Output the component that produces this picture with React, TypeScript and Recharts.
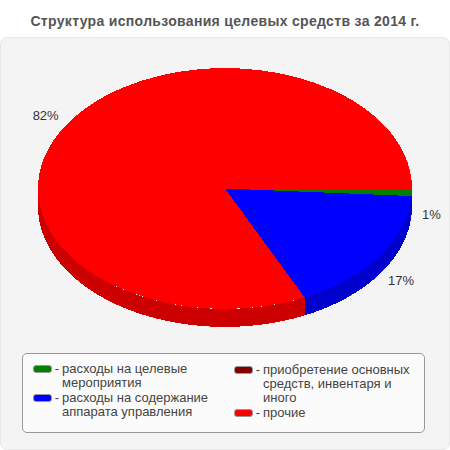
import { Legend, Pie, PieChart } from "recharts";

const categories = [
  "расходы на целевые мероприятия",
  "расходы на содержание аппарата управления",
  "приобретение основных средств, инвентаря и иного",
  "прочие",
];
const shares = [1, 17, 0, 82];
const topColors = ["#008000", "#0000ff", "#800000", "#ff0000"];
const wallColors = ["#006600", "#0000cc", "#660000", "#cc0000"];

const topData = categories.map((name, i) => ({ name, value: shares[i], fill: topColors[i] }));
const wallData = categories.map((name, i) => ({ name, value: shares[i], fill: wallColors[i] }));

const TILT = 0.644; // vertical squash of the pie
const DEPTH = 18;
const RAD = Math.PI / 180;

function pointAt(cx: number, cy: number, r: number, deg: number) {
  return [cx + r * Math.cos(deg * RAD), cy + r * TILT * Math.sin(deg * RAD)];
}

// top face of a slice, angles go clockwise from 3 o'clock
function TopSlice({ cx, cy, outerRadius, startAngle, endAngle, fill }: any) {
  const from = -startAngle;
  const to = -endAngle;
  if (to - from <= 0) return null;
  const [x0, y0] = pointAt(cx, cy, outerRadius, from);
  const [x1, y1] = pointAt(cx, cy, outerRadius, to);
  const large = to - from > 180 ? 1 : 0;
  const d = `M${cx},${cy} L${x0},${y0} A${outerRadius},${outerRadius * TILT} 0 ${large} 1 ${x1},${y1} Z`;
  return <path d={d} fill={fill} shapeRendering="crispEdges" />;
}

// side wall, only the part facing the viewer
function WallSlice({ cx, cy, outerRadius, startAngle, endAngle, fill }: any) {
  const from = Math.max(-startAngle, 0);
  const to = Math.min(-endAngle, 180);
  if (to - from <= 0) return null;
  const ry = outerRadius * TILT;
  const [x0, y0] = pointAt(cx, cy, outerRadius, from);
  const [x1, y1] = pointAt(cx, cy, outerRadius, to);
  const d =
    `M${x0},${y0} A${outerRadius},${ry} 0 0 1 ${x1},${y1} L${x1},${y1 + DEPTH} ` +
    `A${outerRadius},${ry} 0 0 0 ${x0},${y0 + DEPTH} Z`;
  return <path d={d} fill={fill} shapeRendering="crispEdges" />;
}

function sliceLabel({ cx, cy, midAngle, outerRadius, value }: any) {
  if (!value) return null;
  const a = midAngle * RAD;
  const cos = Math.cos(a);
  const sin = Math.sin(a);
  const x = cx + (outerRadius + 10) * cos;
  // labels below the middle sit lower because of the wall
  const y = sin < 0 ? cy - 124 * sin + 22.6 : cy - 137 * sin;
  return (
    <text
      x={x}
      y={y}
      textAnchor={cos > 0 ? "start" : "end"}
      dominantBaseline="central"
      fontFamily="Liberation Sans"
      fontSize={13}
      fill="#333333"
    >
      {value}%
    </text>
  );
}

function LegendRow({ item }: any) {
  return (
    <div style={{ display: "flex", alignItems: "flex-start", marginBottom: 1 }}>
      <span
        style={{
          flex: "none",
          width: 17,
          height: 6,
          marginTop: 3,
          background: item.color,
          border: "1px solid #999999",
          borderRadius: 3,
        }}
      />
      <span style={{ flex: "none", width: 10, textAlign: "center" }}>-</span>
      <span>{item.value}</span>
    </div>
  );
}

function BoxLegend({ payload }: any) {
  // the wall pie shows up in the payload too, keep only the top faces
  const rows = (payload ?? []).filter((item: any) => topColors.includes(item.color));
  return (
    <div
      style={{
        boxSizing: "border-box",
        width: 403,
        height: 80,
        padding: "8px 10px",
        display: "flex",
        background: "#fbfbfb",
        border: "1px solid #999999",
        borderRadius: 5,
        fontFamily: "Liberation Sans",
        fontSize: 13,
        lineHeight: "14px",
        color: "#444444",
      }}
    >
      <div style={{ width: 201 }}>
        {rows.slice(0, 2).map((item: any) => (
          <LegendRow key={item.value} item={item} />
        ))}
      </div>
      <div style={{ width: 180, paddingTop: 1 }}>
        {rows.slice(2).map((item: any) => (
          <LegendRow key={item.value} item={item} />
        ))}
      </div>
    </div>
  );
}

export default function App() {
  return (
    <div style={{ position: "absolute", left: 0, top: 0, width: 450, height: 450, background: "#fff" }}>
      <div
        style={{
          position: "absolute",
          top: 13,
          width: 450,
          textAlign: "center",
          fontFamily: "Liberation Sans",
          fontWeight: "bold",
          fontSize: 14,
          letterSpacing: 0.32,
          color: "#555555",
        }}
      >
        Структура использования целевых средств за 2014 г.
      </div>
      <div
        style={{
          position: "absolute",
          left: 0,
          top: 37,
          width: 448,
          height: 411,
          background: "#f4f4f4",
          border: "1px solid #e8e8e8",
          borderRadius: 7,
        }}
      />
      <div style={{ position: "absolute", left: 0, top: 0 }}>
        <PieChart width={450} height={450} margin={{ top: 0, right: 0, bottom: 0, left: 0 }}>
          <Pie
            data={wallData}
            dataKey="value"
            nameKey="name"
            cx={225}
            cy={188.5}
            outerRadius={187}
            startAngle={0}
            endAngle={-360}
            stroke="none"
            legendType="none"
            shape={WallSlice}
            isAnimationActive={false}
          />
          <Pie
            data={topData}
            dataKey="value"
            nameKey="name"
            cx={225}
            cy={188.5}
            outerRadius={187}
            startAngle={0}
            endAngle={-360}
            stroke="none"
            shape={TopSlice}
            label={sliceLabel}
            labelLine={false}
            isAnimationActive={false}
          />
          <Legend
            content={BoxLegend}
            itemSorter={null}
            wrapperStyle={{ position: "absolute", left: 22, top: 353, width: 403, height: 80, bottom: "auto" }}
          />
        </PieChart>
      </div>
    </div>
  );
}
